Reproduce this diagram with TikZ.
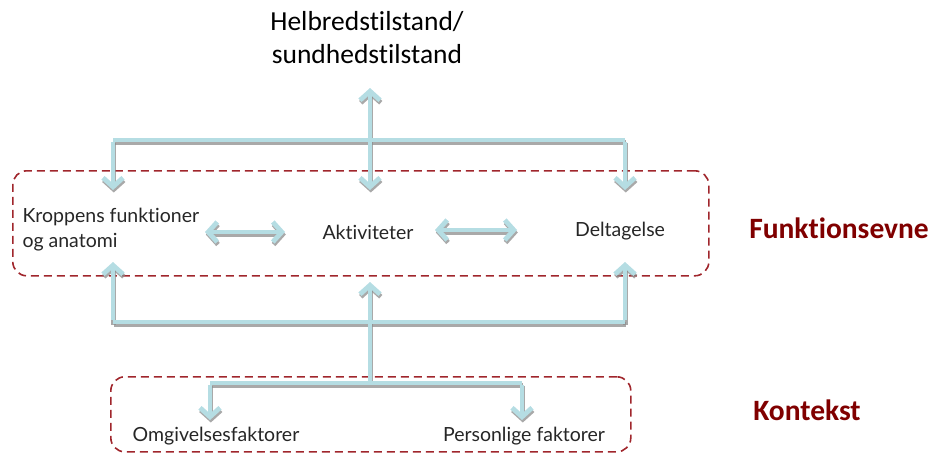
\documentclass[tikz,border=0pt]{standalone}
\usepackage{fontspec}
\setmainfont{Carlito}[Ligatures={NoCommon,NoDiscretionary}]
\newfontfamily\labfont{Lato}[Ligatures={NoCommon,NoDiscretionary}]
\usetikzlibrary{arrows.meta}
\definecolor{arrblue}{HTML}{B5DDE3}
\definecolor{shad}{HTML}{8C8C8C}
\definecolor{boxred}{HTML}{A0262C}
\definecolor{txtred}{HTML}{800000}
\tikzset{
  conn/.style={draw=arrblue, line width=4.8pt, line join=miter},
  connshadow/.style={draw=shad, line width=4.8pt, opacity=0.75, line join=miter},
  tip/.style={-{Straight Barb[length=9pt,width=20pt,line width=4.8pt]}},
  dtip/.style={{Straight Barb[length=9pt,width=20pt,line width=4.8pt]}-{Straight Barb[length=9pt,width=20pt,line width=4.8pt]}},
  framebox/.style={draw=boxred, line width=1.6pt, dash pattern=on 8pt off 5pt, rounded corners=14pt},
  lab/.style={font=\labfont\fontsize{19.5}{25}\selectfont, text=black!85},
  headlab/.style={font=\bfseries\fontsize{29.5}{32}\selectfont, text=txtred},
}
\begin{document}
\begin{tikzpicture}[x=1pt,y=-1pt]
\useasboundingbox (0,0) rectangle (932,453);
% frames
\node[framebox, minimum width=696pt, minimum height=105pt, anchor=north west] (box1) at (12,170) {};
\node[framebox, minimum width=520pt, minimum height=75pt, anchor=north west] (box2) at (110,376) {};
% texts
\node[font=\fontsize{27.5}{33}\selectfont, align=center] (health) at (367,38) {Helbredstilstand/\\sundhedstilstand};
\node[lab, align=left, anchor=west] (body) at (19,230) {Kroppens funktioner\\og anatomi};
\node[lab] (act) at (368,232) {Aktiviteter};
\node[lab] (part) at (620,231) {Deltagelse};
\node[lab] (env) at (216,436) {Omgivelsesfaktorer};
\node[lab] (pers) at (524,436) {Personlige faktorer};
\node[headlab] (fe) at (839,228) {Funktionsevne};
\node[headlab] (ko) at (807,410) {Kontekst};
% coordinates
\coordinate (ttop) at (370,88);
\coordinate (tbot) at (370,190);
\coordinate (tl) at (113,140);
\coordinate (tr) at (625,140);
\coordinate (tld) at (113,190);
\coordinate (trd) at (625,190);
\coordinate (bl) at (113,322);
\coordinate (br) at (625,322);
\coordinate (blu) at (113,262);
\coordinate (bru) at (625,262);
\coordinate (bc) at (370,322);
\coordinate (bcs) at (370,382);
\coordinate (bcu) at (370,282);
\coordinate (kl) at (210,383);
\coordinate (kr) at (522,383);
\coordinate (kld) at (210,420);
\coordinate (krd) at (522,420);
\coordinate (a1l) at (205,232);
\coordinate (a1r) at (285,232);
\coordinate (a2l) at (435,230);
\coordinate (a2r) at (517,230);
% shadows
\begin{scope}[transform canvas={shift={(0.8pt,-2.5pt)}}]
\draw[connshadow] (tl) -- (tr);
\draw[connshadow, tip] (tl) -- (tld);
\draw[connshadow, tip] (tr) -- (trd);
\draw[connshadow, dtip] (ttop) -- (tbot);
\draw[connshadow] (bl) -- (br);
\draw[connshadow, tip] (bl) -- (blu);
\draw[connshadow, tip] (br) -- (bru);
\draw[connshadow, tip] (bcs) -- (bcu);
\draw[connshadow] (kl) -- (kr);
\draw[connshadow, tip] (kl) -- (kld);
\draw[connshadow, tip] (kr) -- (krd);
\draw[connshadow, dtip] (a1l) -- (a1r);
\draw[connshadow, dtip] (a2l) -- (a2r);
\end{scope}
% connectors
\draw[conn] (tl) -- (tr);
\draw[conn, tip] ([yshift=-2.4pt]tl) -- (tld);
\draw[conn, tip] ([yshift=-2.4pt]tr) -- (trd);
\draw[conn, dtip] (ttop) -- (tbot);
\draw[conn] (bl) -- (br);
\draw[conn, tip] ([yshift=2.4pt]bl) -- (blu);
\draw[conn, tip] ([yshift=2.4pt]br) -- (bru);
\draw[conn, tip] (bcs) -- (bcu);
\draw[conn] (kl) -- (kr);
\draw[conn, tip] ([yshift=-2.4pt]kl) -- (kld);
\draw[conn, tip] ([yshift=-2.4pt]kr) -- (krd);
\draw[conn, dtip] (a1l) -- (a1r);
\draw[conn, dtip] (a2l) -- (a2r);
\end{tikzpicture}
\end{document}
